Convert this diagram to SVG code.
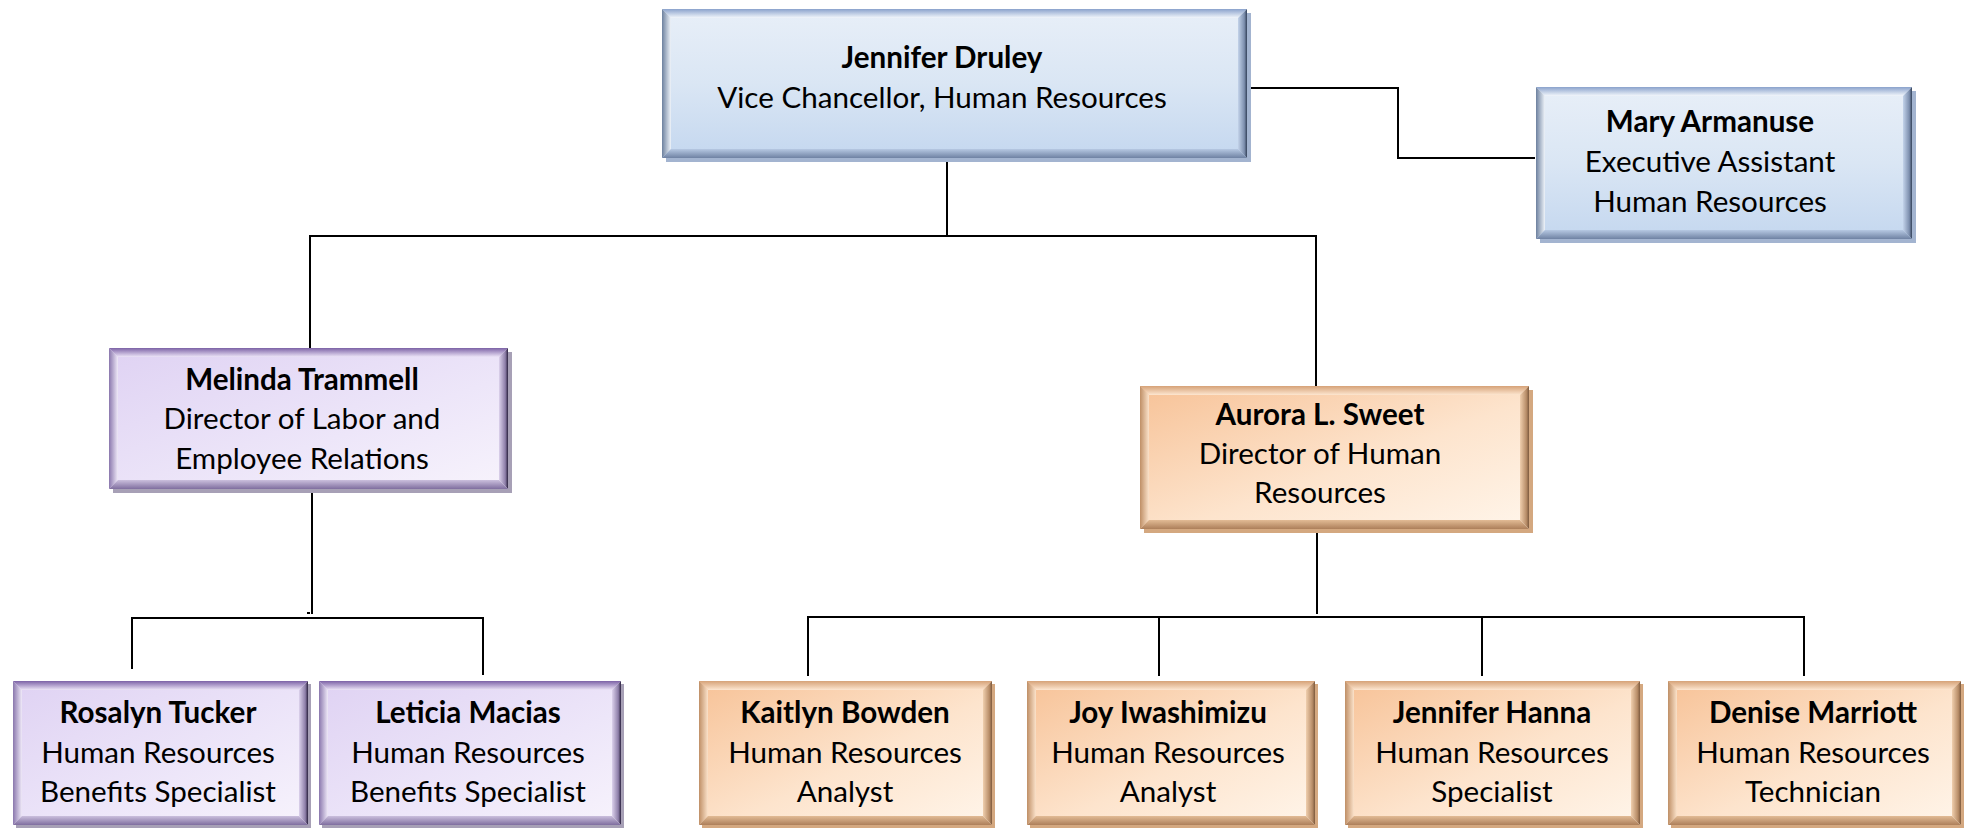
<svg xmlns="http://www.w3.org/2000/svg" width="1971" height="830" viewBox="0 0 1971 830">
<defs>
  <linearGradient id="bBody" x1="0" y1="0" x2="0" y2="1"><stop offset="0" stop-color="#e8eff8"/><stop offset="0.5" stop-color="#dae6f4"/><stop offset="1" stop-color="#c4d7ef"/></linearGradient>
  <linearGradient id="bTop" x1="0" y1="0" x2="0" y2="1"><stop offset="0" stop-color="#8aa2cc"/><stop offset="1" stop-color="#f2f6fb"/></linearGradient>
  <linearGradient id="bLeft" x1="0" y1="0" x2="1" y2="0"><stop offset="0" stop-color="#6d819f"/><stop offset="1" stop-color="#eef3f9"/></linearGradient>
  <linearGradient id="bRight" x1="0" y1="0" x2="1" y2="0"><stop offset="0" stop-color="#c3d3ea"/><stop offset="0.7" stop-color="#7d8fae"/><stop offset="1" stop-color="#34425a"/></linearGradient>
  <linearGradient id="bBot" x1="0" y1="0" x2="0" y2="1"><stop offset="0" stop-color="#b6c8e2"/><stop offset="1" stop-color="#6f82a3"/></linearGradient>

  <linearGradient id="pBody" x1="0" y1="0" x2="1" y2="1"><stop offset="0" stop-color="#dfd2f3"/><stop offset="0.6" stop-color="#ede6f9"/><stop offset="1" stop-color="#f7f3fc"/></linearGradient>
  <linearGradient id="pTop" x1="0" y1="0" x2="0" y2="1"><stop offset="0" stop-color="#7c62a6"/><stop offset="1" stop-color="#ece4f7"/></linearGradient>
  <linearGradient id="pLeft" x1="0" y1="0" x2="1" y2="0"><stop offset="0" stop-color="#8a77ad"/><stop offset="1" stop-color="#efe9f8"/></linearGradient>
  <linearGradient id="pRight" x1="0" y1="0" x2="1" y2="0"><stop offset="0" stop-color="#dcd2ec"/><stop offset="0.7" stop-color="#8d7ea8"/><stop offset="1" stop-color="#2c2340"/></linearGradient>
  <linearGradient id="pBot" x1="0" y1="0" x2="0" y2="1"><stop offset="0" stop-color="#cbbfdd"/><stop offset="1" stop-color="#7f6e9f"/></linearGradient>

  <linearGradient id="oBody" x1="0" y1="0" x2="1" y2="1"><stop offset="0" stop-color="#f7c297"/><stop offset="0.55" stop-color="#fde4cd"/><stop offset="1" stop-color="#fff5ea"/></linearGradient>
  <linearGradient id="oTop" x1="0" y1="0" x2="0" y2="1"><stop offset="0" stop-color="#d6a278"/><stop offset="1" stop-color="#fde6d0"/></linearGradient>
  <linearGradient id="oLeft" x1="0" y1="0" x2="1" y2="0"><stop offset="0" stop-color="#bf8f66"/><stop offset="1" stop-color="#fbe2ca"/></linearGradient>
  <linearGradient id="oRight" x1="0" y1="0" x2="1" y2="0"><stop offset="0" stop-color="#f0cfae"/><stop offset="0.7" stop-color="#b88d68"/><stop offset="1" stop-color="#7d5a3e"/></linearGradient>
  <linearGradient id="oBot" x1="0" y1="0" x2="0" y2="1"><stop offset="0" stop-color="#e2bb95"/><stop offset="1" stop-color="#ad7f5a"/></linearGradient>
</defs>
<style>
  text { font-family: "Lato", "Liberation Sans", sans-serif; font-size: 29.6px; fill: #000; text-anchor: middle; }
  .nm { font-weight: bold; }
  .blue .sh { fill: #a3b4d0; }
  .blue .bd { fill: url(#bBody); }
  .blue .bt { fill: url(#bTop); }
  .blue .bl { fill: url(#bLeft); }
  .blue .br { fill: url(#bRight); }
  .blue .bb { fill: url(#bBot); }
  .purple .sh { fill: #a7a0b6; }
  .purple .bd { fill: url(#pBody); }
  .purple .bt { fill: url(#pTop); }
  .purple .bl { fill: url(#pLeft); }
  .purple .br { fill: url(#pRight); }
  .purple .bb { fill: url(#pBot); }
  .orange .sh { fill: #d4a880; }
  .orange .bd { fill: url(#oBody); }
  .orange .bt { fill: url(#oTop); }
  .orange .bl { fill: url(#oLeft); }
  .orange .br { fill: url(#oRight); }
  .orange .bb { fill: url(#oBot); }
  .conn line, .conn polyline { stroke: #000; stroke-width: 2; fill: none; }
</style>

<g id="connectors" class="conn">
  <line x1="947" y1="156" x2="947" y2="236"/>
  <line x1="309" y1="236" x2="1317" y2="236"/>
  <line x1="310" y1="236" x2="310" y2="348"/>
  <line x1="1316" y1="236" x2="1316" y2="386"/>
  <polyline points="1247,88 1398,88 1398,158 1535,158"/>
  <line x1="312" y1="489" x2="312" y2="614"/>
  <line x1="307" y1="613" x2="310" y2="613"/>
  <line x1="131" y1="618" x2="484" y2="618"/>
  <line x1="132" y1="618" x2="132" y2="669"/>
  <line x1="483" y1="618" x2="483" y2="675"/>
  <line x1="1317" y1="529" x2="1317" y2="614"/>
  <line x1="807" y1="617" x2="1805" y2="617"/>
  <line x1="808" y1="617" x2="808" y2="676"/>
  <line x1="1159" y1="617" x2="1159" y2="676"/>
  <line x1="1482" y1="617" x2="1482" y2="676"/>
  <line x1="1804" y1="617" x2="1804" y2="676"/>
</g>

<g id="n-druley" class="node blue">
  <rect class="sh" x="666" y="13" width="585" height="149"/>
  <rect class="bd" x="662" y="9" width="585" height="149"/>
  <polygon class="bt" points="662,9 1247,9 1238,18 671,18"/>
  <polygon class="bl" points="662,9 671,18 671,149 662,158"/>
  <polygon class="br" points="1247,9 1247,158 1238,149 1238,18"/>
  <polygon class="bb" points="662,158 1247,158 1238,149 671,149"/>
  <text class="nm" x="942" y="68">Jennifer Druley</text>
  <text x="942" y="108">Vice Chancellor, Human Resources</text>
</g>

<g id="n-armanuse" class="node blue">
  <rect class="sh" x="1540" y="91" width="376" height="152"/>
  <rect class="bd" x="1536" y="87" width="376" height="152"/>
  <polygon class="bt" points="1536,87 1912,87 1903,96 1545,96"/>
  <polygon class="bl" points="1536,87 1545,96 1545,230 1536,239"/>
  <polygon class="br" points="1912,87 1912,239 1903,230 1903,96"/>
  <polygon class="bb" points="1536,239 1912,239 1903,230 1545,230"/>
  <text class="nm" x="1710" y="132">Mary Armanuse</text>
  <text x="1710" y="172">Executive Assistant</text>
  <text x="1710" y="212">Human Resources</text>
</g>

<g id="n-trammell" class="node purple">
  <rect class="sh" x="113" y="352" width="399" height="141"/>
  <rect class="bd" x="109" y="348" width="399" height="141"/>
  <polygon class="bt" points="109,348 508,348 499,357 118,357"/>
  <polygon class="bl" points="109,348 118,357 118,480 109,489"/>
  <polygon class="br" points="508,348 508,489 499,480 499,357"/>
  <polygon class="bb" points="109,489 508,489 499,480 118,480"/>
  <text class="nm" x="302" y="390">Melinda Trammell</text>
  <text x="302" y="429">Director of Labor and</text>
  <text x="302" y="469">Employee Relations</text>
</g>

<g id="n-sweet" class="node orange">
  <rect class="sh" x="1144" y="390" width="389" height="143"/>
  <rect class="bd" x="1140" y="386" width="389" height="143"/>
  <polygon class="bt" points="1140,386 1529,386 1520,395 1149,395"/>
  <polygon class="bl" points="1140,386 1149,395 1149,520 1140,529"/>
  <polygon class="br" points="1529,386 1529,529 1520,520 1520,395"/>
  <polygon class="bb" points="1140,529 1529,529 1520,520 1149,520"/>
  <text class="nm" x="1320" y="425">Aurora L. Sweet</text>
  <text x="1320" y="464">Director of Human</text>
  <text x="1320" y="503">Resources</text>
</g>

<g id="n-tucker" class="node purple">
  <rect class="sh" x="16" y="684" width="295" height="144"/>
  <rect class="bd" x="13" y="681" width="295" height="144"/>
  <polygon class="bt" points="13,681 308,681 299,690 22,690"/>
  <polygon class="bl" points="13,681 22,690 22,816 13,825"/>
  <polygon class="br" points="308,681 308,825 299,816 299,690"/>
  <polygon class="bb" points="13,825 308,825 299,816 22,816"/>
  <text class="nm" x="158" y="723">Rosalyn Tucker</text>
  <text x="158" y="763">Human Resources</text>
  <text x="158" y="802">Benefits Specialist</text>
</g>

<g id="n-macias" class="node purple">
  <rect class="sh" x="322" y="684" width="302" height="144"/>
  <rect class="bd" x="319" y="681" width="302" height="144"/>
  <polygon class="bt" points="319,681 621,681 612,690 328,690"/>
  <polygon class="bl" points="319,681 328,690 328,816 319,825"/>
  <polygon class="br" points="621,681 621,825 612,816 612,690"/>
  <polygon class="bb" points="319,825 621,825 612,816 328,816"/>
  <text class="nm" x="468" y="723">Leticia Macias</text>
  <text x="468" y="763">Human Resources</text>
  <text x="468" y="802">Benefits Specialist</text>
</g>

<g id="n-bowden" class="node orange">
  <rect class="sh" x="702" y="684" width="293" height="144"/>
  <rect class="bd" x="699" y="681" width="293" height="144"/>
  <polygon class="bt" points="699,681 992,681 983,690 708,690"/>
  <polygon class="bl" points="699,681 708,690 708,816 699,825"/>
  <polygon class="br" points="992,681 992,825 983,816 983,690"/>
  <polygon class="bb" points="699,825 992,825 983,816 708,816"/>
  <text class="nm" x="845" y="723">Kaitlyn Bowden</text>
  <text x="845" y="763">Human Resources</text>
  <text x="845" y="802">Analyst</text>
</g>

<g id="n-iwashimizu" class="node orange">
  <rect class="sh" x="1030" y="684" width="288" height="144"/>
  <rect class="bd" x="1027" y="681" width="288" height="144"/>
  <polygon class="bt" points="1027,681 1315,681 1306,690 1036,690"/>
  <polygon class="bl" points="1027,681 1036,690 1036,816 1027,825"/>
  <polygon class="br" points="1315,681 1315,825 1306,816 1306,690"/>
  <polygon class="bb" points="1027,825 1315,825 1306,816 1036,816"/>
  <text class="nm" x="1168" y="723">Joy Iwashimizu</text>
  <text x="1168" y="763">Human Resources</text>
  <text x="1168" y="802">Analyst</text>
</g>

<g id="n-hanna" class="node orange">
  <rect class="sh" x="1348" y="684" width="295" height="144"/>
  <rect class="bd" x="1345" y="681" width="295" height="144"/>
  <polygon class="bt" points="1345,681 1640,681 1631,690 1354,690"/>
  <polygon class="bl" points="1345,681 1354,690 1354,816 1345,825"/>
  <polygon class="br" points="1640,681 1640,825 1631,816 1631,690"/>
  <polygon class="bb" points="1345,825 1640,825 1631,816 1354,816"/>
  <text class="nm" x="1492" y="723">Jennifer Hanna</text>
  <text x="1492" y="763">Human Resources</text>
  <text x="1492" y="802">Specialist</text>
</g>

<g id="n-marriott" class="node orange">
  <rect class="sh" x="1671" y="684" width="293" height="144"/>
  <rect class="bd" x="1668" y="681" width="293" height="144"/>
  <polygon class="bt" points="1668,681 1961,681 1952,690 1677,690"/>
  <polygon class="bl" points="1668,681 1677,690 1677,816 1668,825"/>
  <polygon class="br" points="1961,681 1961,825 1952,816 1952,690"/>
  <polygon class="bb" points="1668,825 1961,825 1952,816 1677,816"/>
  <text class="nm" x="1813" y="723">Denise Marriott</text>
  <text x="1813" y="763">Human Resources</text>
  <text x="1813" y="802">Technician</text>
</g>
</svg>
